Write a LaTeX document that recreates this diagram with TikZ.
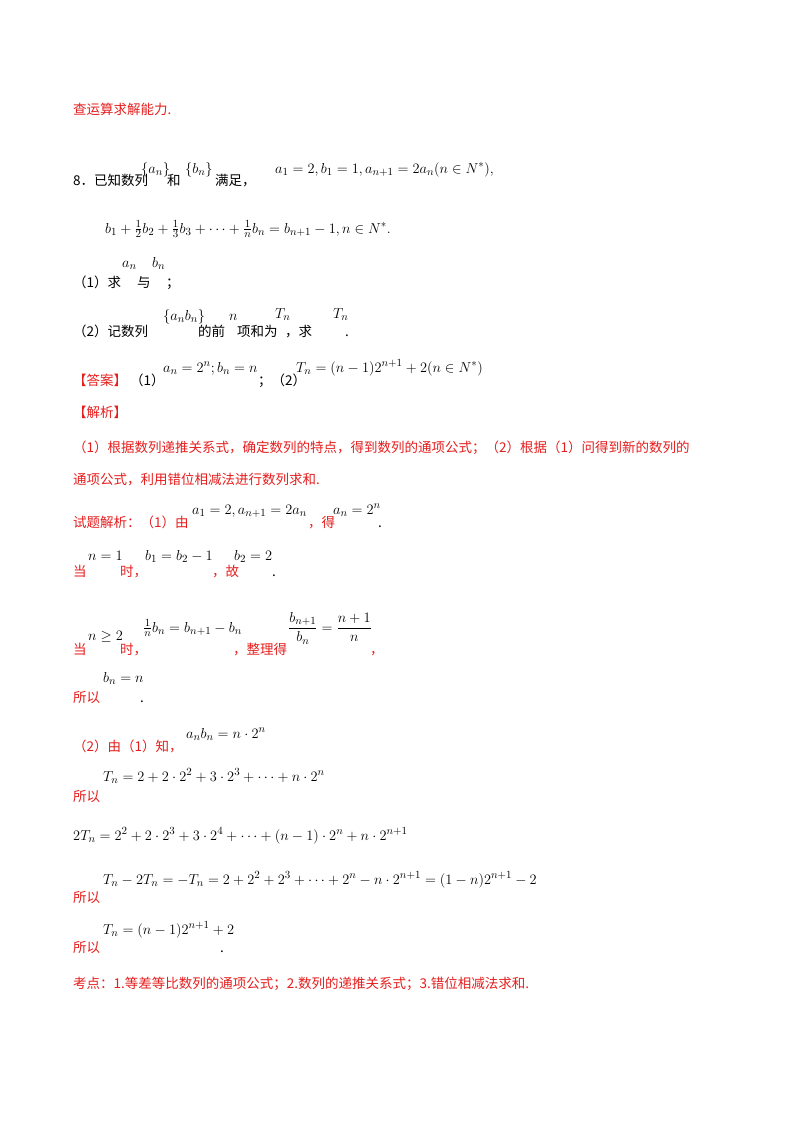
\documentclass[tikz,border=0pt]{standalone}
\usepackage{amsmath,amssymb}
\usepackage{fontspec}
\newfontfamily\cjk{Noto Sans CJK SC}
\definecolor{rd}{RGB}{230,30,30}
\tikzset{t/.style={anchor=base west,inner sep=0pt,font=\cjk\fontsize{13.5}{16}\selectfont},
 r/.style={t,text=rd}, m/.style={anchor=base west,inner sep=0pt,font=\fontsize{15}{17}\selectfont}}
\begin{document}
\begin{tikzpicture}[x=1pt,y=-1pt]
\useasboundingbox[fill=white] (0,0) rectangle (800,1132);
\node[r] (l0) at (73,114) {查运算求解能力.};
\node[t] (l1) at (73,185) {8．已知数列};
\node[m] (l1a) at (141,173) {$\{a_n\}$};
\node[t] (l1b) at (167,185) {和};
\node[m] (l1c) at (185,173) {$\{b_n\}$};
\node[t] (l1d) at (215,185) {满足，};
\node[m] (l1e) at (275,173) {$a_1=2,b_1=1,a_{n+1}=2a_n(n\in N^*),$};
\node[m] (l2) at (105,233) {$b_1+\frac12 b_2+\frac13 b_3+\cdots+\frac1n b_n=b_{n+1}-1,n\in N^*.$};
\node[t] (l3) at (73,287) {（1）求};
\node[m] (l3a) at (122,267) {$a_n$};
\node[t] (l3b) at (137,287) {与};
\node[m] (l3c) at (152,267) {$b_n$};
\node[t] (l3d) at (166,287) {；};
\node[t] (l4) at (73,336) {（2）记数列};
\node[m] (l4a) at (163,320) {$\{a_nb_n\}$};
\node[t] (l4b) at (198,336) {的前};
\node[m] (l4c) at (229,320) {$n$};
\node[t] (l4d) at (237,336) {项和为};
\node[m] (l4e) at (275,318) {$T_n$};
\node[t] (l4d2) at (285,336) {，求};
\node[m] (l4f) at (333,318) {$T_n$};
\node[t] (l4g) at (345,336) {.};
\node[r] (l5) at (73,385) {【答案】};
\node[t] (l5a) at (130,385) {（1）};
\node[m] (l5b) at (163,372) {$a_n=2^n;b_n=n$};
\node[t] (l5c) at (258,385) {；（2）};
\node[m] (l5d) at (296,372) {$T_n=(n-1)2^{n+1}+2(n\in N^*)$};
\node[r] (l6) at (73,417) {【解析】};
\node[r] (l7) at (73,452) {（1）根据数列递推关系式，确定数列的特点，得到数列的通项公式；（2）根据（1）问得到新的数列的};
\node[r] (l8) at (73,484) {通项公式，利用错位相减法进行数列求和.};
\node[r] (l9) at (73,527) {试题解析：（1）由};
\node[m] (l9a) at (192,514) {$a_1=2,a_{n+1}=2a_n$};
\node[r] (l9b) at (308,527) {，得};
\node[m] (l9c) at (333,514) {$a_n=2^n$};
\node[t] (l9d) at (378,527) {.};
\node[r] (l10) at (73,576) {当};
\node[m] (l10a) at (88,560) {$n=1$};
\node[r] (l10b) at (120,576) {时，};
\node[m] (l10c) at (145,560) {$b_1=b_2-1$};
\node[r] (l10d) at (212,576) {，故};
\node[m] (l10e) at (234,560) {$b_2=2$};
\node[t] (l10f) at (272,576) {.};
\node[r] (l11) at (73,654) {当};
\node[m] (l11a) at (88,640) {$n\ge2$};
\node[r] (l11b) at (120,654) {时，};
\node[m] (l11c) at (143,632) {$\frac1n b_n=b_{n+1}-b_n$};
\node[r] (l11d) at (233,654) {，整理得};
\node[m] (l11e) at (288,632) {$\dfrac{b_{n+1}}{b_n}=\dfrac{n+1}{n}$};
\node[r] (l11f) at (370,654) {，};
\node[r] (l12) at (73,702) {所以};
\node[m] (l12a) at (103,682) {$b_n=n$};
\node[t] (l12b) at (140,702) {.};
\node[r] (l13) at (73,751) {（2）由（1）知，};
\node[m] (l13a) at (186,738) {$a_nb_n=n\cdot2^n$};
\node[m] (l14a) at (103,781) {$T_n=2+2\cdot2^2+3\cdot2^3+\cdots+n\cdot2^n$};
\node[r] (l14) at (73,801) {所以};
\node[m] (l15) at (73,840) {$2T_n=2^2+2\cdot2^3+3\cdot2^4+\cdots+(n-1)\cdot2^n+n\cdot2^{n+1}$};
\node[m] (l16a) at (103,884) {$T_n-2T_n=-T_n=2+2^2+2^3+\cdots+2^n-n\cdot2^{n+1}=(1-n)2^{n+1}-2$};
\node[r] (l16) at (73,902) {所以};
\node[m] (l17a) at (103,934) {$T_n=(n-1)2^{n+1}+2$};
\node[r] (l17) at (73,952) {所以};
\node[t] (l17b) at (220,952) {.};
\node[r] (l18) at (73,988) {考点：1.等差等比数列的通项公式；2.数列的递推关系式；3.错位相减法求和.};
\end{tikzpicture}
\end{document}
